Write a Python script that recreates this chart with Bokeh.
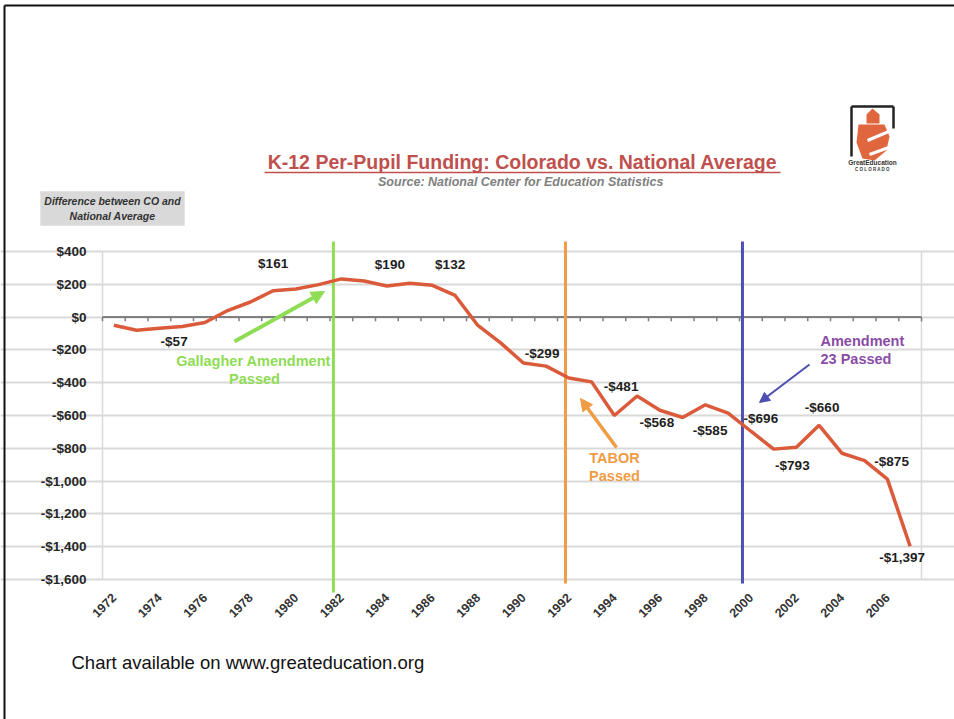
import math
from bokeh.plotting import figure
from bokeh.models import (Range1d, FixedTicker, Label, Arrow, NormalHead,
                          ColumnDataSource)
from bokeh.core.properties import value
from bokeh.embed import file_html
from bokeh.resources import INLINE

# ---------------- data ----------------
years = list(range(1972, 2008))
diff = [-50, -80, -68, -57, -33, 40, 92, 161, 171, 198, 233, 220, 190, 206, 194, 132,
        -51, -157, -280, -299, -371, -395, -600, -481, -568, -612, -535, -585, -696,
        -805, -793, -660, -830, -875, -988, -1397]
y_ticks = [400, 200, 0, -200, -400, -600, -800, -1000, -1200, -1400, -1600]
x_ticks = list(range(1972, 2007, 2))
label_years = [1975, 1979, 1984, 1987, 1991, 1995, 1996, 1999, 2000, 2002, 2003, 2005, 2007]
event_years = [1982, 1992, 2000]

title_text = "K-12 Per-Pupil Funding: Colorado vs. National Average"
subtitle_text = "Source:  National Center for Education Statistics"
ylabel_text = "Difference between CO and\nNational Average"
footer_text = "Chart available on www.greateducation.org"


def money(v):
    return ("-$" if v < 0 else "$") + f"{abs(v):,}"


# ---------------- styles / geometry ----------------
FONT = "Liberation Sans"
LINE_RED = "#DA5A3A"
GREEN = "#8FDC55"
ORANGE = "#EF9C45"
BLUE = "#4D50B0"
PURPLE = "#8A4DA6"
LOGO_ORANGE = "#E0663E"

W, H = 954, 719
PX_LEFT = 102        # page x of first category boundary
PX_PER_YEAR = 22.75
PY_ZERO = 316.6      # page y of $0
PY_PER_DOLLAR = 0.164

x_lo = years[0] - 0.5
x_hi = years[-1] + 0.5
xr = Range1d(x_lo - PX_LEFT / PX_PER_YEAR, x_lo + (W - PX_LEFT) / PX_PER_YEAR)
yr_ = Range1d((PY_ZERO - H) / PY_PER_DOLLAR, PY_ZERO / PY_PER_DOLLAR)


def dy_of(py):
    return (PY_ZERO - py) / PY_PER_DOLLAR


def dx_of(px):
    return xr.start + px / PX_PER_YEAR


p = figure(width=W, height=H, output_backend="svg", toolbar_location=None,
           x_range=xr, y_range=yr_, title=None, min_border=0)
p.outline_line_color = None
p.background_fill_color = "white"
p.border_fill_color = "white"

# axes (placed inside the canvas at the plot-area edges)
p.yaxis.fixed_location = x_lo
p.yaxis.ticker = FixedTicker(ticks=y_ticks)
p.yaxis.major_label_overrides = {t: money(t) for t in y_ticks}
p.yaxis.axis_line_color = None
p.yaxis.major_tick_line_color = None
p.yaxis.minor_tick_line_color = None
p.yaxis.major_label_standoff = 10
p.yaxis.major_label_text_font = FONT
p.yaxis.major_label_text_font_style = "bold"
p.yaxis.major_label_text_font_size = "13.5px"
p.yaxis.major_label_text_color = "#262626"

p.xaxis.fixed_location = dy_of(586)
p.xaxis.ticker = FixedTicker(ticks=x_ticks)
p.xaxis.major_label_orientation = math.pi / 4
p.xaxis.axis_line_color = None
p.xaxis.major_tick_line_color = None
p.xaxis.minor_tick_line_color = None
p.xaxis.major_label_standoff = 3
p.xaxis.major_label_text_font = FONT
p.xaxis.major_label_text_font_style = "bold"
p.xaxis.major_label_text_font_size = "12.5px"
p.xaxis.major_label_text_color = "#333333"

p.xgrid.grid_line_color = None
p.ygrid.ticker = FixedTicker(ticks=y_ticks)
p.ygrid.bounds = (x_lo, x_hi)
p.ygrid.grid_line_color = "#D9D9D9"
p.ygrid.grid_line_width = 2

# plot-area borders (left / right)
p.segment(x0=[x_lo, x_hi], y0=[min(y_ticks)] * 2, x1=[x_lo, x_hi], y1=[max(y_ticks)] * 2,
          line_color="#D9D9D9", line_width=1.5)

# zero axis with category-boundary ticks
bounds = [y - 0.5 for y in years] + [x_hi]
p.segment(x0=[x_lo], y0=[0], x1=[x_hi], y1=[0], line_color="#7F7F7F", line_width=2)
p.segment(x0=bounds, y0=[0] * len(bounds), x1=bounds, y1=[-26] * len(bounds),
          line_color="#7F7F7F", line_width=1.5)

# event vertical lines
ev_colors = [GREEN, ORANGE, BLUE]
ev_shift = [-0.35, -0.15, -0.37]
ev_bottom_py = [592, 583, 583]
for yr, c, s, b in zip(event_years, ev_colors, ev_shift, ev_bottom_py):
    p.segment(x0=[yr + s], y0=[dy_of(b)], x1=[yr + s], y1=[dy_of(241)], line_color=c, line_width=3)

# data line
p.line(years, diff, line_color=LINE_RED, line_width=3.5)

# data labels
lab_vals = [diff[years.index(y)] for y in label_years]
lab_dx = [-8, 0, 3, -5, -4, -16, -3, -18, 10, -4, 3, 27, -8]
lab_dy = [15, -27, -21, -31, -13, -9, 12, 17, -13, 18, -18, 1, 11]
src = ColumnDataSource(dict(x=label_years, y=lab_vals, t=[money(v) for v in lab_vals],
                            dx=lab_dx, dy=lab_dy))
p.text(x="x", y="y", text="t", x_offset="dx", y_offset="dy", source=src,
       text_align="center", text_baseline="middle", text_font=value(FONT),
       text_font_style="bold", text_font_size="13.5px", text_color="#1E1E1E")


# ---------------- annotations (screen units: frame == canvas) ----------------
def sx(px):
    return px


def sy(py):
    return H - py


def label(px, py, text, size, color, style="bold", align="center", **kw):
    p.add_layout(Label(x=sx(px), y=sy(py), x_units="screen", y_units="screen", text=text,
                       text_align=align, text_baseline="middle", text_font=FONT,
                       text_font_size=size, text_font_style=style, text_color=color, **kw))


def seg(ax, ay, bx, by, color, width, head=None):
    p.add_layout(Arrow(x_start=sx(ax), y_start=sy(ay), x_end=sx(bx), y_end=sy(by),
                       start_units="screen", end_units="screen", end=head,
                       line_color=color, line_width=width))


# slide border
seg(4, 5, 954, 5, "#111111", 2)
seg(4, 5, 4, 719, "#111111", 2)

# title
label(522, 161, title_text, "19.5px", "#C0504D")
seg(264, 172, 780, 172, "#C0504D", 1.5)
label(522, 181, subtitle_text, "12.5px", "#808080", style="bold italic")

# y label box
label(112, 208, ylabel_text, "10.5px", "#333333", style="bold italic",
      background_fill_color="#D9D9D9", padding=4)

# event annotations
seg(234, 341, 324, 291, GREEN, 4, NormalHead(size=13, fill_color=GREEN, line_color=GREEN))
label(253, 360, "Gallagher Amendment", "14.5px", GREEN)
label(254, 378, "Passed", "14.5px", GREEN)

seg(616, 447, 580, 398, ORANGE, 3.5, NormalHead(size=12, fill_color=ORANGE, line_color=ORANGE))
label(614, 457, "TABOR", "14.5px", ORANGE)
label(614, 475, "Passed", "14.5px", ORANGE)

seg(809, 364, 759, 402, BLUE, 2, NormalHead(size=10, fill_color=BLUE, line_color=BLUE))
label(820, 340, "Amendment", "14.5px", PURPLE, align="left")
label(820, 358, "23 Passed", "14.5px", PURPLE, align="left")

# logo (approximation of the GreatEducation Colorado mark)
house_px = [866, 872, 879, 879, 866]
house_py = [114, 108, 114, 123, 123]
body_px = [858, 884, 889, 886, 874, 862, 856]
body_py = [124, 124, 136, 150, 160, 158, 142]
p.patch([dx_of(v) for v in house_px], [dy_of(v) for v in house_py],
        fill_color=LOGO_ORANGE, line_color=None)
p.patch([dx_of(v) for v in body_px], [dy_of(v) for v in body_py],
        fill_color=LOGO_ORANGE, line_color=None)
seg(893, 129, 867, 140, "white", 3)
seg(891, 146, 869, 154, "white", 3)
seg(851, 106, 893, 106, "#222222", 2.5)
seg(851, 106, 851, 156, "#222222", 2.5)
seg(893, 106, 893, 128, "#222222", 2.5)
label(872, 162, "GreatEducation", "6.5px", "#333333")
label(872, 169, "C O L O R A D O", "4.5px", "#333333")

# footer
label(71, 662, footer_text, "18.5px", "#111111", style="normal", align="left")

open("out.html", "w").write(file_html(p, INLINE))
